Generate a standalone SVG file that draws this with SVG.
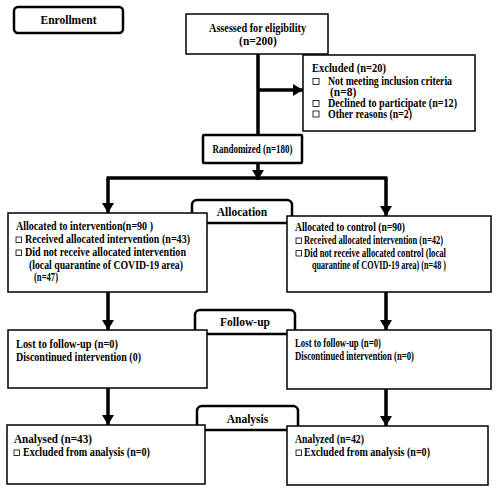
<svg xmlns="http://www.w3.org/2000/svg" width="500" height="495" viewBox="0 0 500 495">
<style>
text{font-family:"Liberation Serif","Times New Roman",serif;font-size:11.5px;font-weight:bold;fill:#000}
.box{fill:#fff;stroke:#000;stroke-width:1.5}
.rbox{fill:#fff;stroke:#000;stroke-width:2.5}
.c{text-anchor:middle}
.cb{fill:#fff;stroke:#000;stroke-width:0.8}
.ln{fill:none;stroke:#000;stroke-width:3.5}
</style>
<defs>
<marker id="ah" markerUnits="userSpaceOnUse" markerWidth="10" markerHeight="12" refX="10" refY="6" orient="auto">
<path d="M0,0 L10,6 L0,12 z" fill="#000"/>
</marker>
</defs>
<rect width="500" height="495" fill="#fff"/>
<g id="connectors">
<path class="ln" d="M258,54 V135"/>
<path class="ln" d="M258,90 H303" marker-end="url(#ah)"/>
<path class="ln" d="M258,163 V180" marker-end="url(#ah)"/>
<path class="ln" d="M106.5,178 H387.5"/>
<path class="ln" d="M108,178 V213" marker-end="url(#ah)"/>
<path class="ln" d="M386,178 V216" marker-end="url(#ah)"/>
<path class="ln" d="M108,292 V330" marker-end="url(#ah)"/>
<path class="ln" d="M386,292 V330" marker-end="url(#ah)"/>
<path class="ln" d="M108,388 V425" marker-end="url(#ah)"/>
<path class="ln" d="M386,389 V426" marker-end="url(#ah)"/>
</g>
<g id="enrollment">
<rect class="rbox" x="14" y="7" width="109" height="26" rx="4"/>
<text class="c" x="68.5" y="23.5">Enrollment</text>
</g>
<g id="assessed">
<rect class="box" x="186" y="14" width="142" height="40"/>
<text class="c" x="257.5" y="32" textLength="97" lengthAdjust="spacingAndGlyphs">Assessed for eligibility</text>
<text class="c" x="258" y="45">(n=200)</text>
</g>
<g id="excluded">
<rect class="box" x="303" y="55" width="172" height="76"/>
<text x="312" y="72" textLength="74" lengthAdjust="spacingAndGlyphs">Excluded  (n=20)</text>
<rect class="cb" x="313" y="78.5" width="6" height="6"/>
<text x="328" y="85" textLength="124" lengthAdjust="spacingAndGlyphs">Not meeting inclusion criteria</text>
<text x="330" y="96">(n=8)</text>
<rect class="cb" x="313" y="100.5" width="6" height="6"/>
<text x="328" y="107" textLength="129" lengthAdjust="spacingAndGlyphs">Declined to participate (n=12)</text>
<rect class="cb" x="313" y="111" width="6" height="6"/>
<text x="328" y="118" textLength="84" lengthAdjust="spacingAndGlyphs">Other reasons (n=2)</text>
</g>
<g id="randomized">
<rect class="rbox" x="203" y="135" width="99" height="28" rx="1"/>
<text class="c" x="252.5" y="153" textLength="80" lengthAdjust="spacingAndGlyphs">Randomized (n=180)</text>
</g>
<g id="allocation">
<rect class="rbox" x="192" y="200" width="100" height="23" rx="5"/>
<text class="c" x="242" y="215.5">Allocation</text>
</g>
<g id="alloc-intervention">
<rect class="box" x="8" y="213" width="199" height="79"/>
<text x="16" y="230" textLength="137" lengthAdjust="spacingAndGlyphs">Allocated to intervention(n=90 )</text>
<rect class="cb" x="16" y="237" width="5.5" height="5.5"/>
<text x="25" y="243" textLength="165" lengthAdjust="spacingAndGlyphs">Received allocated intervention (n=43)</text>
<rect class="cb" x="16" y="250" width="5.5" height="5.5"/>
<text x="25" y="256" textLength="161" lengthAdjust="spacingAndGlyphs">Did not receive allocated intervention</text>
<text x="29" y="268.5" textLength="154" lengthAdjust="spacingAndGlyphs">(local quarantine of COVID-19 area)</text>
<text x="34" y="281" textLength="24" lengthAdjust="spacingAndGlyphs">(n=47)</text>
</g>
<g id="alloc-control">
<rect class="box" x="287" y="216" width="204" height="76"/>
<text x="295" y="231" textLength="110" lengthAdjust="spacingAndGlyphs">Allocated to control  (n=90)</text>
<rect class="cb" x="296" y="238" width="5.5" height="5.5"/>
<text x="304" y="244" textLength="139" lengthAdjust="spacingAndGlyphs">Received allocated intervention (n=42)</text>
<rect class="cb" x="296" y="250.5" width="5.5" height="5.5"/>
<text x="304" y="256.5" textLength="142" lengthAdjust="spacingAndGlyphs">Did not receive allocated control  (local</text>
<text x="312" y="269" textLength="134" lengthAdjust="spacingAndGlyphs">quarantine of COVID-19 area) (n=48 )</text>
</g>
<g id="followup">
<rect class="rbox" x="195" y="310" width="100" height="24" rx="5"/>
<text class="c" x="245" y="326">Follow-up</text>
</g>
<g id="followup-left">
<rect class="box" x="8" y="330" width="199" height="58"/>
<text x="16" y="348" textLength="102" lengthAdjust="spacingAndGlyphs">Lost to follow-up  (n=0)</text>
<text x="16" y="361" textLength="125" lengthAdjust="spacingAndGlyphs">Discontinued intervention (0)</text>
</g>
<g id="followup-right">
<rect class="box" x="287" y="330" width="204" height="59"/>
<text x="295" y="347" textLength="86" lengthAdjust="spacingAndGlyphs">Lost to follow-up  (n=0)</text>
<text x="295" y="360" textLength="119" lengthAdjust="spacingAndGlyphs">Discontinued intervention  (n=0)</text>
</g>
<g id="analysis">
<rect class="rbox" x="197" y="406" width="101" height="24" rx="5"/>
<text class="c" x="247.5" y="422.5">Analysis</text>
</g>
<g id="analysis-left">
<rect class="box" x="7" y="425" width="198" height="59"/>
<text x="14" y="443" textLength="78" lengthAdjust="spacingAndGlyphs">Analysed  (n=43)</text>
<rect class="cb" x="14" y="450" width="5.5" height="5.5"/>
<text x="23" y="456" textLength="127" lengthAdjust="spacingAndGlyphs">Excluded from analysis (n=0)</text>
</g>
<g id="analysis-right">
<rect class="box" x="287" y="426" width="201" height="59"/>
<text x="295" y="443" textLength="69" lengthAdjust="spacingAndGlyphs">Analyzed (n=42)</text>
<rect class="cb" x="296" y="450" width="5.5" height="5.5"/>
<text x="304" y="456" textLength="126" lengthAdjust="spacingAndGlyphs">Excluded from analysis (n=0)</text>
</g>
</svg>
